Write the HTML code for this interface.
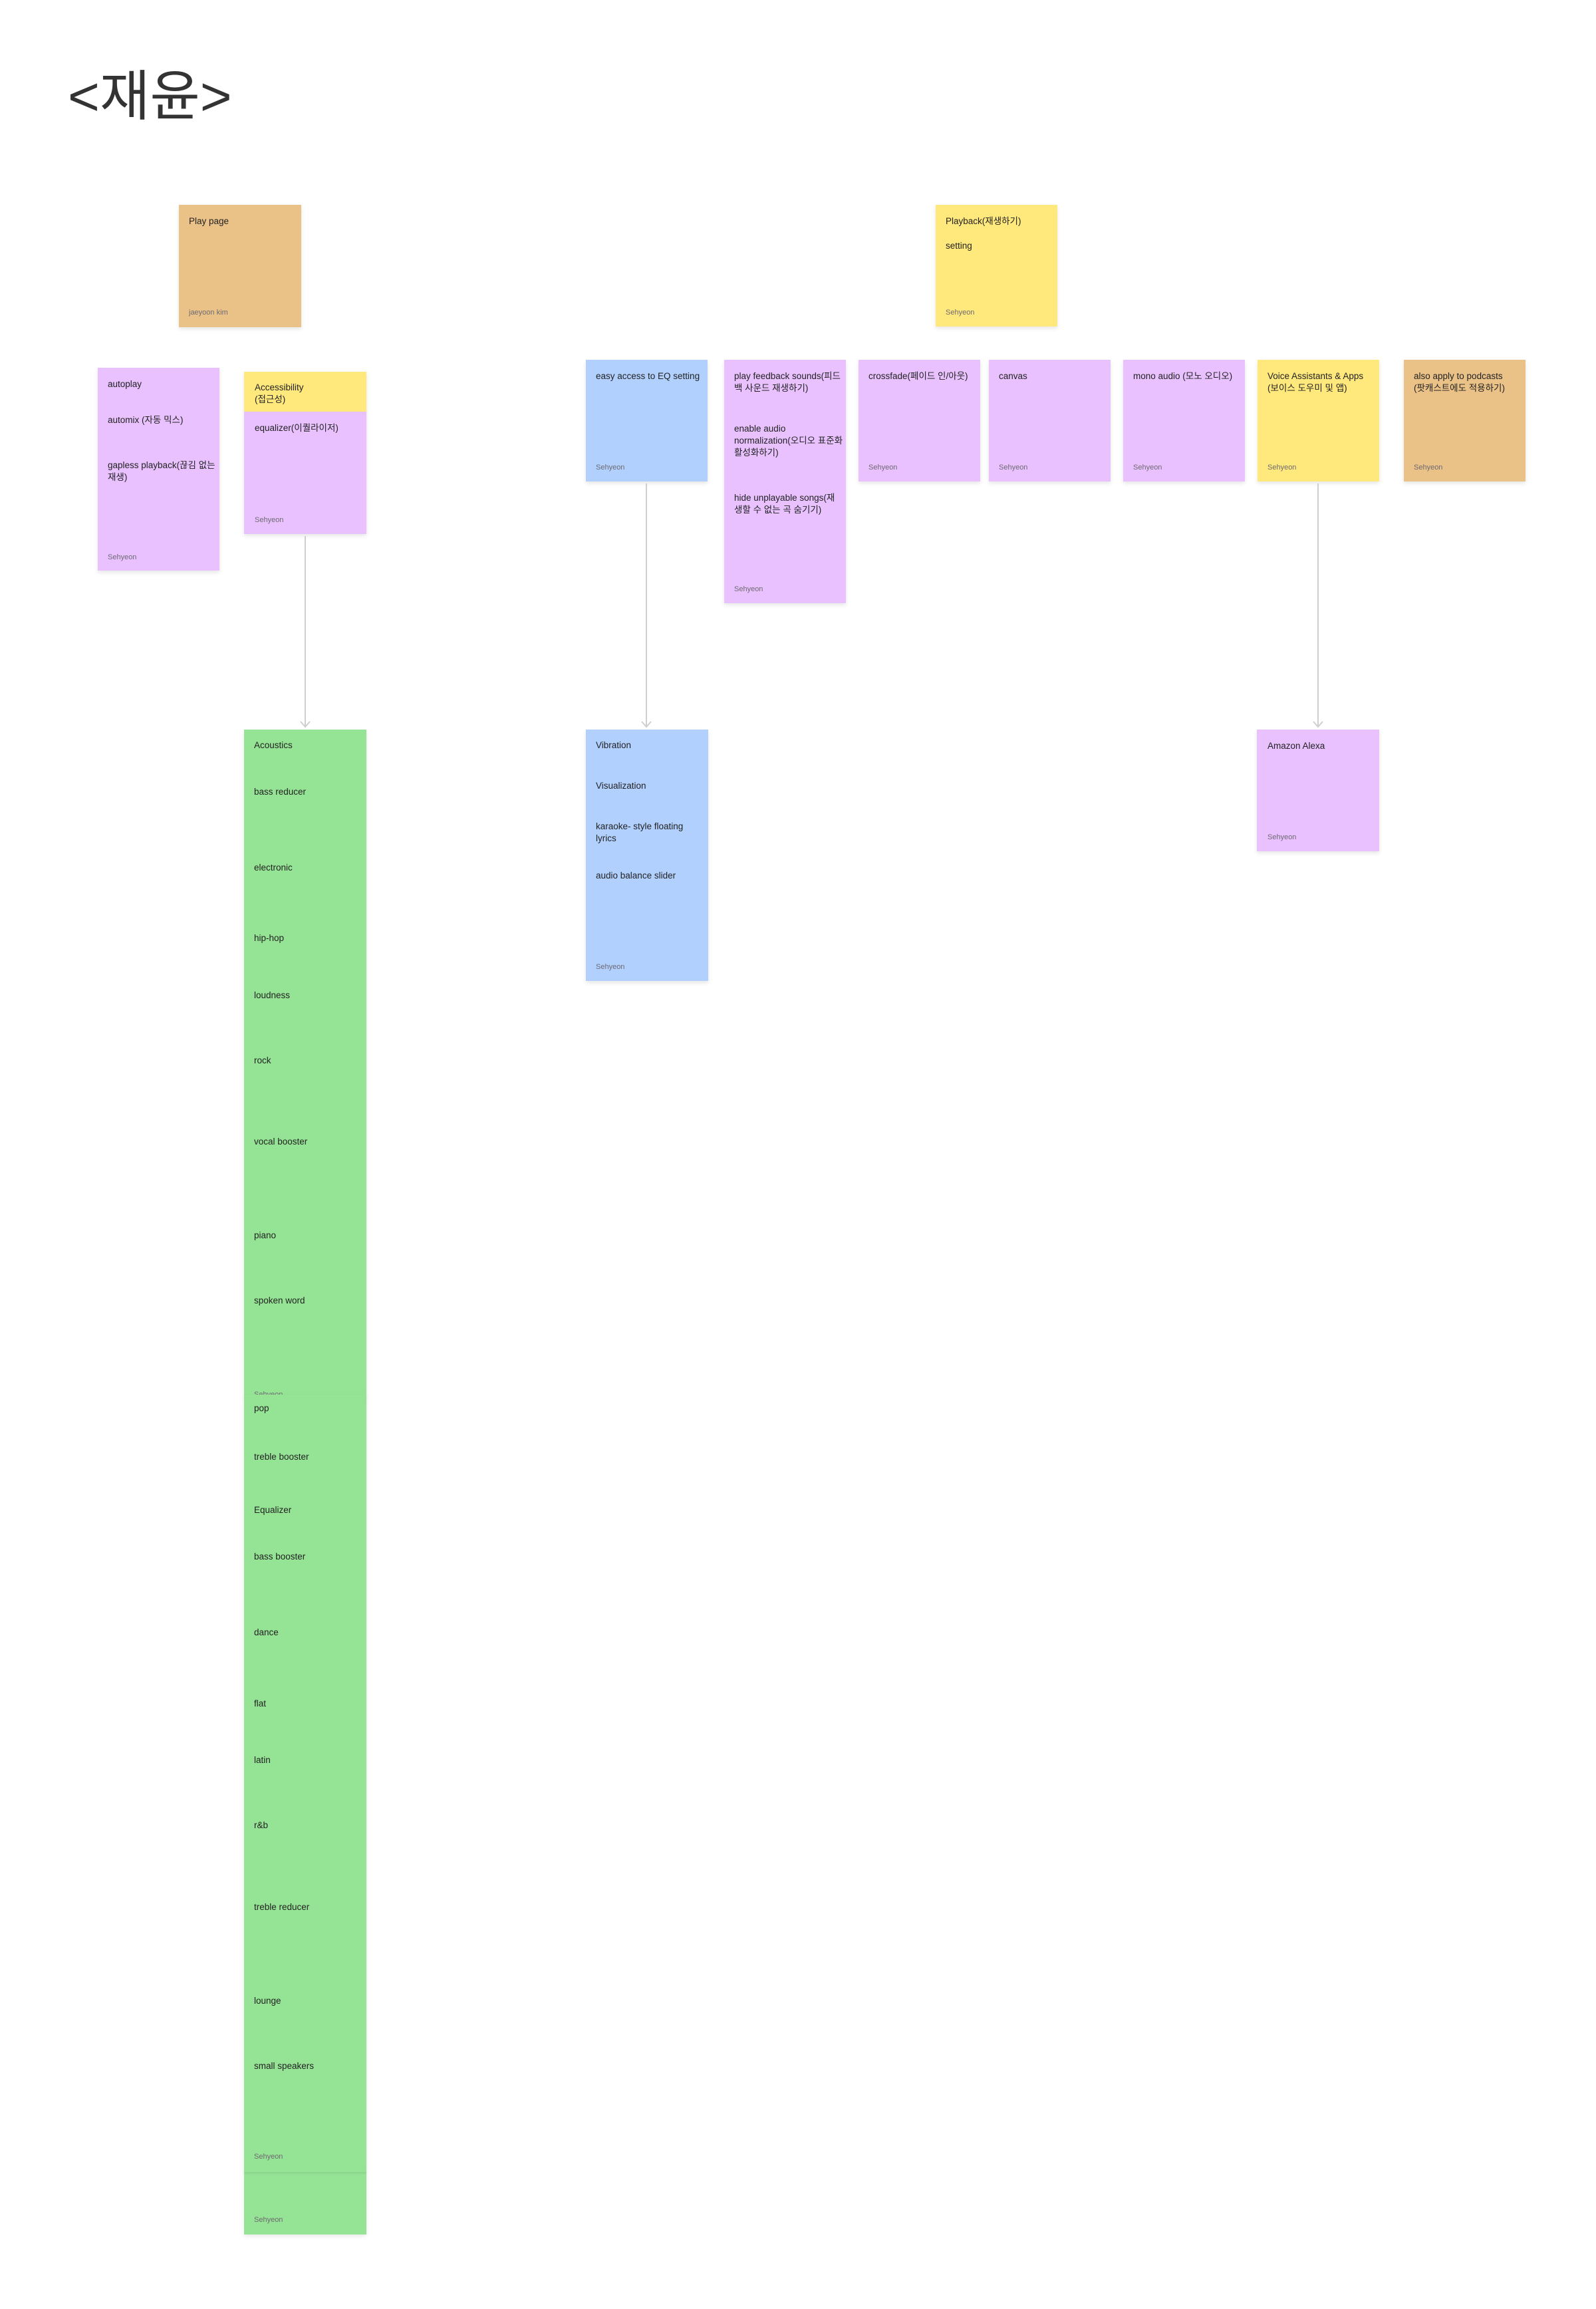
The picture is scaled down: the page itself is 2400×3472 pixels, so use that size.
<!DOCTYPE html>
<html><head><meta charset="utf-8"><style>
html,body{margin:0;padding:0;background:#fff;}
body{width:2400px;height:3472px;position:relative;overflow:hidden;font-family:"Liberation Sans","Noto Sans CJK KR",sans-serif;color:#1e1e1e;}
.n{position:absolute;box-shadow:0 3px 6px rgba(0,0,0,0.10);}
.t{position:absolute;font-size:13.5px;line-height:18px;white-space:nowrap;color:#222;}
.s{position:absolute;font-size:11px;line-height:14px;color:#6e6a72;}
.o{background:#eac288;}.y{background:#ffe87c;}.p{background:#e8c1fe;}.b{background:#b1d0fe;}.g{background:#95e395;}
.line{position:absolute;width:2px;background:#cfcfcf;}
</style></head><body>
<div style="position:absolute;left:102px;top:86px;font-size:82px;line-height:120px;color:#333;font-family:'Liberation Sans','Noto Sans CJK KR',sans-serif;">&lt;재윤&gt;</div>

<div class="n o" style="left:269px;top:308px;width:184px;height:184px"></div>
<div class="t" style="left:284px;top:324px">Play page</div>
<div class="s" style="left:284px;top:463px">jaeyoon kim</div>

<div class="n y" style="left:1407px;top:308px;width:183px;height:183px"></div>
<div class="t" style="left:1422px;top:324px">Playback(재생하기)</div>
<div class="t" style="left:1422px;top:361px">setting</div>
<div class="s" style="left:1422px;top:463px">Sehyeon</div>

<div class="n p" style="left:147px;top:553px;width:183px;height:305px"></div>
<div class="t" style="left:162px;top:569px">autoplay</div>
<div class="t" style="left:162px;top:623px">automix (자동 믹스)</div>
<div class="t" style="left:162px;top:691px">gapless playback(끊김 없는<br>재생)</div>
<div class="s" style="left:162px;top:831px">Sehyeon</div>

<div class="n p" style="left:367px;top:559px;width:184px;height:244px"></div>
<div class="y" style="position:absolute;left:367px;top:559px;width:184px;height:60px"></div>
<div class="t" style="left:383px;top:574px">Accessibility<br>(접근성)</div>
<div class="t" style="left:383px;top:635px">equalizer(이퀄라이저)</div>
<div class="s" style="left:383px;top:775px">Sehyeon</div>

<div class="n b" style="left:881px;top:541px;width:183px;height:183px"></div>
<div class="t" style="left:896px;top:557px">easy access to EQ setting</div>
<div class="s" style="left:896px;top:696px">Sehyeon</div>

<div class="n p" style="left:1089px;top:541px;width:183px;height:366px"></div>
<div class="t" style="left:1104px;top:557px">play feedback sounds(피드<br>백 사운드 재생하기)</div>
<div class="t" style="left:1104px;top:636px">enable audio<br>normalization(오디오 표준화<br>활성화하기)</div>
<div class="t" style="left:1104px;top:740px">hide unplayable songs(재<br>생할 수 없는 곡 숨기기)</div>
<div class="s" style="left:1104px;top:879px">Sehyeon</div>

<div class="n p" style="left:1291px;top:541px;width:183px;height:183px"></div>
<div class="t" style="left:1306px;top:557px">crossfade(페이드 인/아웃)</div>
<div class="s" style="left:1306px;top:696px">Sehyeon</div>

<div class="n p" style="left:1487px;top:541px;width:183px;height:183px"></div>
<div class="t" style="left:1502px;top:557px">canvas</div>
<div class="s" style="left:1502px;top:696px">Sehyeon</div>

<div class="n p" style="left:1689px;top:541px;width:183px;height:183px"></div>
<div class="t" style="left:1704px;top:557px">mono audio (모노 오디오)</div>
<div class="s" style="left:1704px;top:696px">Sehyeon</div>

<div class="n y" style="left:1891px;top:541px;width:183px;height:183px"></div>
<div class="t" style="left:1906px;top:557px">Voice Assistants &amp; Apps<br>(보이스 도우미 및 앱)</div>
<div class="s" style="left:1906px;top:696px">Sehyeon</div>

<div class="n o" style="left:2111px;top:541px;width:183px;height:183px"></div>
<div class="t" style="left:2126px;top:557px">also apply to podcasts<br>(팟캐스트에도 적용하기)</div>
<div class="s" style="left:2126px;top:696px">Sehyeon</div>

<div class="line" style="left:458px;top:806px;height:286px"></div>
<div class="line" style="left:971px;top:727px;height:365px"></div>
<div class="line" style="left:1981px;top:727px;height:365px"></div>
<svg style="position:absolute;left:0;top:0" width="2400" height="1100">
<g fill="none" stroke="#cfcfcf" stroke-width="2">
<polyline points="452,1085 459,1093 466,1085"/>
<polyline points="965,1085 972,1093 979,1085"/>
<polyline points="1975,1085 1982,1093 1989,1085"/>
</g></svg>

<div class="n g" style="left:367px;top:1097px;width:184px;height:1004px"></div>
<div class="s" style="left:382px;top:2090px">Sehyeon</div>
<div class="n g" style="left:367px;top:2097px;width:184px;height:1168px"></div>
<div class="n g" style="left:367px;top:3265px;width:184px;height:95px;box-shadow:0 3px 6px rgba(0,0,0,0.08)"></div>
<div class="g" style="position:absolute;left:367px;top:3262px;width:184px;height:4px;box-shadow:0 2px 3px rgba(0,0,0,0.08)"></div>
<div class="t" style="left:382px;top:1112px">Acoustics</div>
<div class="t" style="left:382px;top:1182px">bass reducer</div>
<div class="t" style="left:382px;top:1296px">electronic</div>
<div class="t" style="left:382px;top:1402px">hip-hop</div>
<div class="t" style="left:382px;top:1488px">loudness</div>
<div class="t" style="left:382px;top:1586px">rock</div>
<div class="t" style="left:382px;top:1708px">vocal booster</div>
<div class="t" style="left:382px;top:1849px">piano</div>
<div class="t" style="left:382px;top:1947px">spoken word</div>
<div class="t" style="left:382px;top:2109px">pop</div>
<div class="t" style="left:382px;top:2182px">treble booster</div>
<div class="t" style="left:382px;top:2262px">Equalizer</div>
<div class="t" style="left:382px;top:2332px">bass booster</div>
<div class="t" style="left:382px;top:2446px">dance</div>
<div class="t" style="left:382px;top:2553px">flat</div>
<div class="t" style="left:382px;top:2638px">latin</div>
<div class="t" style="left:382px;top:2736px">r&amp;b</div>
<div class="t" style="left:382px;top:2859px">treble reducer</div>
<div class="t" style="left:382px;top:3000px">lounge</div>
<div class="t" style="left:382px;top:3098px">small speakers</div>
<div class="s" style="left:382px;top:3236px">Sehyeon</div>
<div class="s" style="left:382px;top:3331px">Sehyeon</div>

<div class="n b" style="left:881px;top:1097px;width:184px;height:378px"></div>
<div class="t" style="left:896px;top:1112px">Vibration</div>
<div class="t" style="left:896px;top:1173px">Visualization</div>
<div class="t" style="left:896px;top:1234px">karaoke- style floating<br>lyrics</div>
<div class="t" style="left:896px;top:1308px">audio balance slider</div>
<div class="s" style="left:896px;top:1447px">Sehyeon</div>

<div class="n p" style="left:1890px;top:1097px;width:184px;height:183px"></div>
<div class="t" style="left:1906px;top:1113px">Amazon Alexa</div>
<div class="s" style="left:1906px;top:1252px">Sehyeon</div>
</body></html>
